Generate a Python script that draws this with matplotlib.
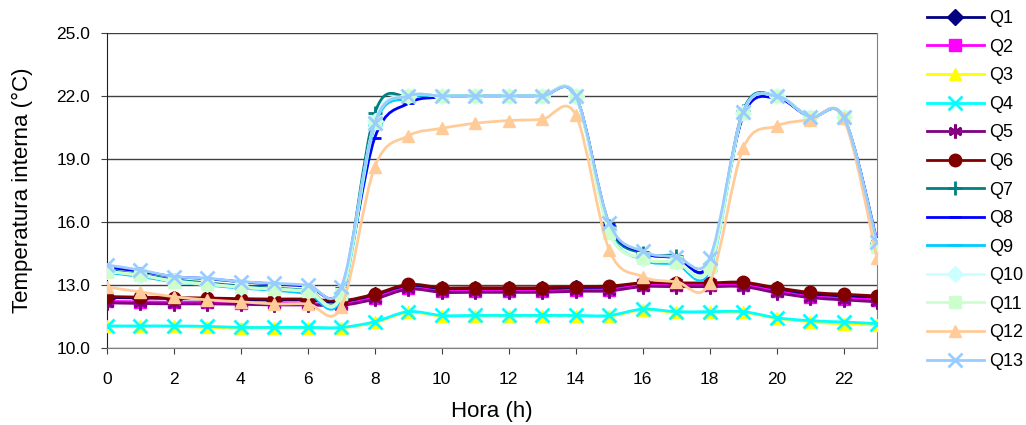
import numpy as np
import matplotlib.pyplot as plt
from matplotlib.path import Path
from matplotlib.patches import PathPatch
from matplotlib.lines import Line2D

plt.rcParams['font.family'] = ['Liberation Sans', 'DejaVu Sans']

hours = list(range(24))

q1 = [12.40, 12.38, 12.35, 12.33, 12.30, 12.28, 12.28, 12.20, 12.50, 12.92, 12.80, 12.80,
      12.80, 12.80, 12.85, 12.88, 13.05, 13.05, 13.05, 13.05, 12.80, 12.55, 12.48, 12.40]
q2 = [12.22, 12.20, 12.18, 12.17, 12.15, 12.12, 12.12, 12.08, 12.40, 12.85, 12.70, 12.70,
      12.70, 12.70, 12.75, 12.78, 12.98, 12.98, 12.98, 12.98, 12.70, 12.45, 12.35, 12.30]
q3 = [11.03, 11.03, 11.03, 10.98, 10.96, 10.96, 10.96, 10.96, 11.22, 11.70, 11.52, 11.52,
      11.52, 11.52, 11.52, 11.52, 11.82, 11.70, 11.70, 11.70, 11.42, 11.25, 11.15, 11.10]
q4 = [11.05, 11.05, 11.05, 11.03, 10.98, 10.98, 10.98, 10.98, 11.25, 11.73, 11.55, 11.55,
      11.55, 11.55, 11.55, 11.55, 11.85, 11.73, 11.73, 11.73, 11.44, 11.30, 11.24, 11.16]
q5 = [12.15, 12.12, 12.10, 12.10, 12.08, 12.05, 12.05, 12.03, 12.33, 12.80, 12.65, 12.65,
      12.65, 12.65, 12.70, 12.72, 12.92, 12.92, 12.92, 12.92, 12.63, 12.40, 12.29, 12.20]
q6 = [12.45, 12.42, 12.40, 12.38, 12.35, 12.33, 12.33, 12.25, 12.57, 13.03, 12.87, 12.87,
      12.87, 12.87, 12.92, 12.95, 13.10, 13.10, 13.10, 13.13, 12.87, 12.65, 12.56, 12.48]
q7 = [13.70, 13.50, 13.25, 13.10, 12.95, 12.85, 12.75, 12.60, 21.18, 22.00, 22.00, 22.00,
      22.00, 22.00, 22.00, 15.80, 14.50, 14.40, 14.00, 21.30, 22.00, 21.00, 21.00, 15.00]
q8 = [13.85, 13.65, 13.40, 13.30, 13.15, 13.05, 12.95, 12.85, 20.02, 21.65, 21.95, 22.00,
      22.00, 22.00, 22.00, 15.90, 14.55, 14.30, 14.05, 21.05, 21.90, 21.00, 21.00, 15.10]
q9 = [13.60, 13.40, 13.15, 13.00, 12.85, 12.75, 12.60, 12.40, 20.60, 21.90, 22.00, 22.00,
      22.00, 22.00, 22.00, 15.60, 14.20, 14.00, 13.70, 21.20, 22.00, 21.00, 21.00, 14.90]
q10 = [13.65, 13.45, 13.20, 13.05, 12.90, 12.80, 12.70, 12.50, 20.80, 22.00, 22.00, 22.00,
       22.00, 22.00, 22.00, 15.55, 14.25, 14.10, 13.80, 21.20, 22.00, 21.00, 21.00, 14.85]
q11 = [13.63, 13.48, 13.16, 13.03, 12.89, 12.80, 12.73, 12.56, 20.70, 22.00, 22.00, 22.00,
       22.00, 22.00, 22.00, 15.49, 14.27, 14.10, 13.87, 21.20, 22.00, 21.00, 21.00, 14.83]
q12 = [12.90, 12.67, 12.44, 12.29, 12.20, 12.10, 12.10, 11.97, 18.63, 20.10, 20.46, 20.70,
       20.83, 20.89, 21.10, 14.67, 13.40, 13.16, 13.10, 19.50, 20.57, 20.86, 20.94, 14.27]
q13 = [13.95, 13.71, 13.40, 13.32, 13.16, 13.08, 13.00, 12.90, 20.73, 22.00, 22.00, 22.00,
       22.00, 22.00, 22.00, 15.95, 14.60, 14.35, 14.27, 21.25, 22.00, 21.00, 21.00, 15.06]

labels = ['Q1', 'Q2', 'Q3', 'Q4', 'Q5', 'Q6', 'Q7', 'Q8', 'Q9', 'Q10', 'Q11', 'Q12', 'Q13']
series = [q1, q2, q3, q4, q5, q6, q7, q8, q9, q10, q11, q12, q13]
colors = ['#000080', '#FF00FF', '#FFFF00', '#00FFFF', '#800080', '#800000', '#008080',
          '#0000FF', '#00CCFF', '#CCFFFF', '#CCFFCC', '#FFCC99', '#99CCFF']
markers = ['D', 's', '^', 'x', (6, 2, 0), 'o', '+', '_', '_', 'D', 's', '^', 'x']
msizes = [8, 8, 9, 10, 10, 9, 10, 8, 10, 8, 8, 9, 10]
thin = ('x', '+', '_')


def smooth_path(x, y):
    # excel-like smoothed line: cubic bezier through the points
    pts = np.column_stack([x, y]).astype(float)
    n = len(pts)
    verts = [pts[0]]
    codes = [Path.MOVETO]
    for i in range(n - 1):
        p0 = pts[max(i - 1, 0)]
        p1 = pts[i]
        p2 = pts[i + 1]
        p3 = pts[min(i + 2, n - 1)]
        c1 = p1 + (p2 - p0) / 6.0
        c2 = p2 - (p3 - p1) / 6.0
        verts += [c1, c2, p2]
        codes += [Path.CURVE4] * 3
    return Path(verts, codes)


def edge_w(m):
    return 2 if (m in thin or isinstance(m, tuple)) else 1


fig = plt.figure(figsize=(10.26, 4.25), dpi=100)
ax = fig.add_axes([0.1043, 0.1812, 0.7505, 0.7412])

for k, ys in enumerate(series):
    patch = PathPatch(smooth_path(hours, ys), facecolor='none', edgecolor=colors[k],
                      lw=2, zorder=3 + k)
    ax.add_patch(patch)
    ax.plot(hours, ys, linestyle='none', marker=markers[k], color=colors[k],
            markersize=msizes[k], markeredgewidth=edge_w(markers[k]), zorder=3 + k)

ax.set_xlim(0, 23)
ax.set_ylim(10, 25)
ax.set_xticks(range(0, 23, 2))
ax.set_yticks([10, 13, 16, 19, 22, 25])
ax.set_yticklabels(['10.0', '13.0', '16.0', '19.0', '22.0', '25.0'])
ax.yaxis.grid(True, color='#404040', lw=1)
ax.set_axisbelow(True)
ax.tick_params(axis='both', labelsize=12.5, direction='out', length=4, color='#404040')
ax.tick_params(axis='x', pad=13)
ax.tick_params(axis='y', pad=8)
ax.spines['top'].set_visible(False)
ax.spines['left'].set_color('#202020')
ax.spines['bottom'].set_color('#808080')
ax.spines['right'].set_color('#808080')

ax.set_xlabel('Hora (h)', fontsize=16)
ax.set_ylabel('Temperatura interna (°C)', fontsize=16)
ax.xaxis.set_label_coords(0.5, -0.168)
ax.yaxis.set_label_coords(-0.0955, 0.5)

handles = [Line2D([0], [0], color=colors[k], lw=2, marker=markers[k], markersize=msizes[k],
                  markeredgewidth=edge_w(markers[k]))
           for k in range(len(labels))]
fig.legend(handles, labels, loc='upper left', bbox_to_anchor=(0.9035, 0.976), frameon=False,
           fontsize=13, handlelength=3.15, labelspacing=0.64, handletextpad=0.28,
           borderaxespad=0, borderpad=0)

fig.savefig('out.png', dpi=100)
